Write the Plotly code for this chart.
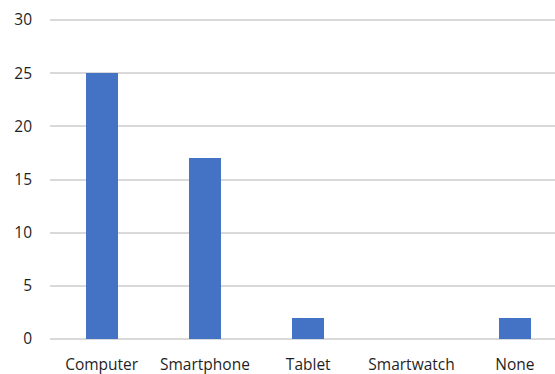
import plotly.graph_objects as go

categories = ["Computer", "Smartphone", "Tablet", "Smartwatch", "None"]
values = [25, 17, 2, 0, 2]
y_ticks = [0, 5, 10, 15, 20, 25, 30]

fig = go.Figure(go.Bar(
    x=categories, y=values, marker_color="#4472C4", width=0.31,
    marker_line_width=0,
))

font = dict(family="Open Sans, Lato, sans-serif", size=15.5, color="#1f1f1f")

fig.update_layout(
    width=555, height=374,
    margin=dict(l=50, r=0, t=18.5, b=34.5),
    plot_bgcolor="white", paper_bgcolor="white",
    font=font, showlegend=False,
    bargap=0,
)
fig.update_xaxes(
    type="category", range=[-0.5, 4.389],
    showgrid=False, showline=False, zeroline=False,
    ticks="", ticklabelstandoff=14, tickfont=font,
)
fig.update_yaxes(
    range=[0, 30.1], tickvals=y_ticks, showgrid=True, gridcolor="#d9d9d9",
    gridwidth=1.5, zeroline=True, zerolinecolor="#d9d9d9", zerolinewidth=1.5,
    showline=False, ticks="",
    ticklabelstandoff=17, tickfont=font,
)
fig.write_html("out.html")
